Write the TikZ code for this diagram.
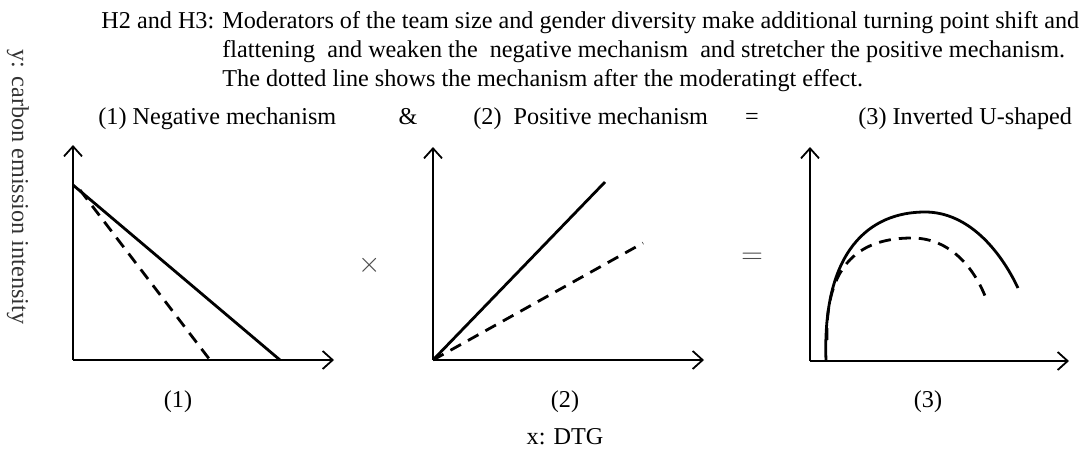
\documentclass[tikz,border=0pt]{standalone}
\usepackage{fontspec}
\setmainfont{Liberation Serif}
\usetikzlibrary{arrows.meta}

\begin{document}
\begin{tikzpicture}[x=0.5pt, y=-0.5pt, >={Straight Barb[length=5pt, width=9pt]},
    axis/.style={->, line width=0.9pt},
    solidline/.style={line width=1.4pt},
    dashline/.style={line width=1.4pt, dash pattern=on 6pt off 4pt},
    txt/.style={font=\fontsize{12.1}{14}\selectfont, inner sep=0pt}]
    \useasboundingbox (0,0) rectangle (1089,450);

    % heading
    \node[txt, anchor=base west] (head1) at (101,28) {H2 and H3: Moderators of the team size and gender diversity make additional turning point shift and};
    \node[txt, anchor=base west] (head2) at (222,57) {flattening\ \ and weaken the\ \ negative mechanism\ \ and stretcher the positive mechanism.};
    \node[txt, anchor=base west] (head3) at (222,86) {The dotted line shows the mechanism after the moderatingt effect.};

    % panel titles
    \node[txt, anchor=base west] (t1) at (98,124) {(1) Negative mechanism};
    \node[txt, anchor=base] (amp) at (408,124) {\&};
    \node[txt, anchor=base west] (t2) at (473,124) {(2)\ \ Positive mechanism};
    \node[txt, anchor=base] (eq) at (752,124) {=};
    \node[txt, anchor=base west] (t3) at (858,124) {(3) Inverted U-shaped};

    % y label
    \node[txt, rotate=-90, text=black!80] (ylab) at (18,187) {y: carbon emission intensity};

    % (1) negative mechanism
    \coordinate (o1) at (73,360);
    \coordinate (y1) at (73,145);
    \coordinate (x1) at (334,360);
    \draw[axis] (o1) -- (y1);
    \draw[axis] (o1) -- (x1);
    \draw[solidline] (73,185) -- (280,360);
    \draw[dashline] (80,190) -- (210,360);
    \node[txt] (n1) at (178,402) {(1)};

    \node[font=\Large, text=black!70] (times) at (370,265) {$\times$};

    % (2) positive mechanism
    \coordinate (o2) at (433,360);
    \coordinate (y2) at (433,147);
    \coordinate (x2) at (704,360);
    \draw[axis] (o2) -- (y2);
    \draw[axis] (o2) -- (x2);
    \draw[solidline] (o2) -- (605,182);
    \draw[dashline] (o2) -- (643,243);
    \node[txt] (n2) at (565,402) {(2)};
    \node[txt] (xlab) at (565,437) {x: DTG};

    \node[font=\Large, text=black!70] (equals) at (752,258) {$=$};

    % (3) inverted U
    \coordinate (o3) at (810,361);
    \coordinate (y3) at (810,147);
    \coordinate (x3) at (1069,361);
    \draw[axis] (o3) -- (y3);
    \draw[axis] (o3) -- (x3);
    \draw[solidline] (826,361) .. controls (822,250) and (870,212) .. (925,212)
        .. controls (968,212) and (1000,250) .. (1018,288);
    \draw[dashline] (827,340) .. controls (825,262) and (862,238) .. (912,238)
        .. controls (950,238) and (975,268) .. (987,301);
    \node[txt] (n3) at (928,402) {(3)};
\end{tikzpicture}
\end{document}
